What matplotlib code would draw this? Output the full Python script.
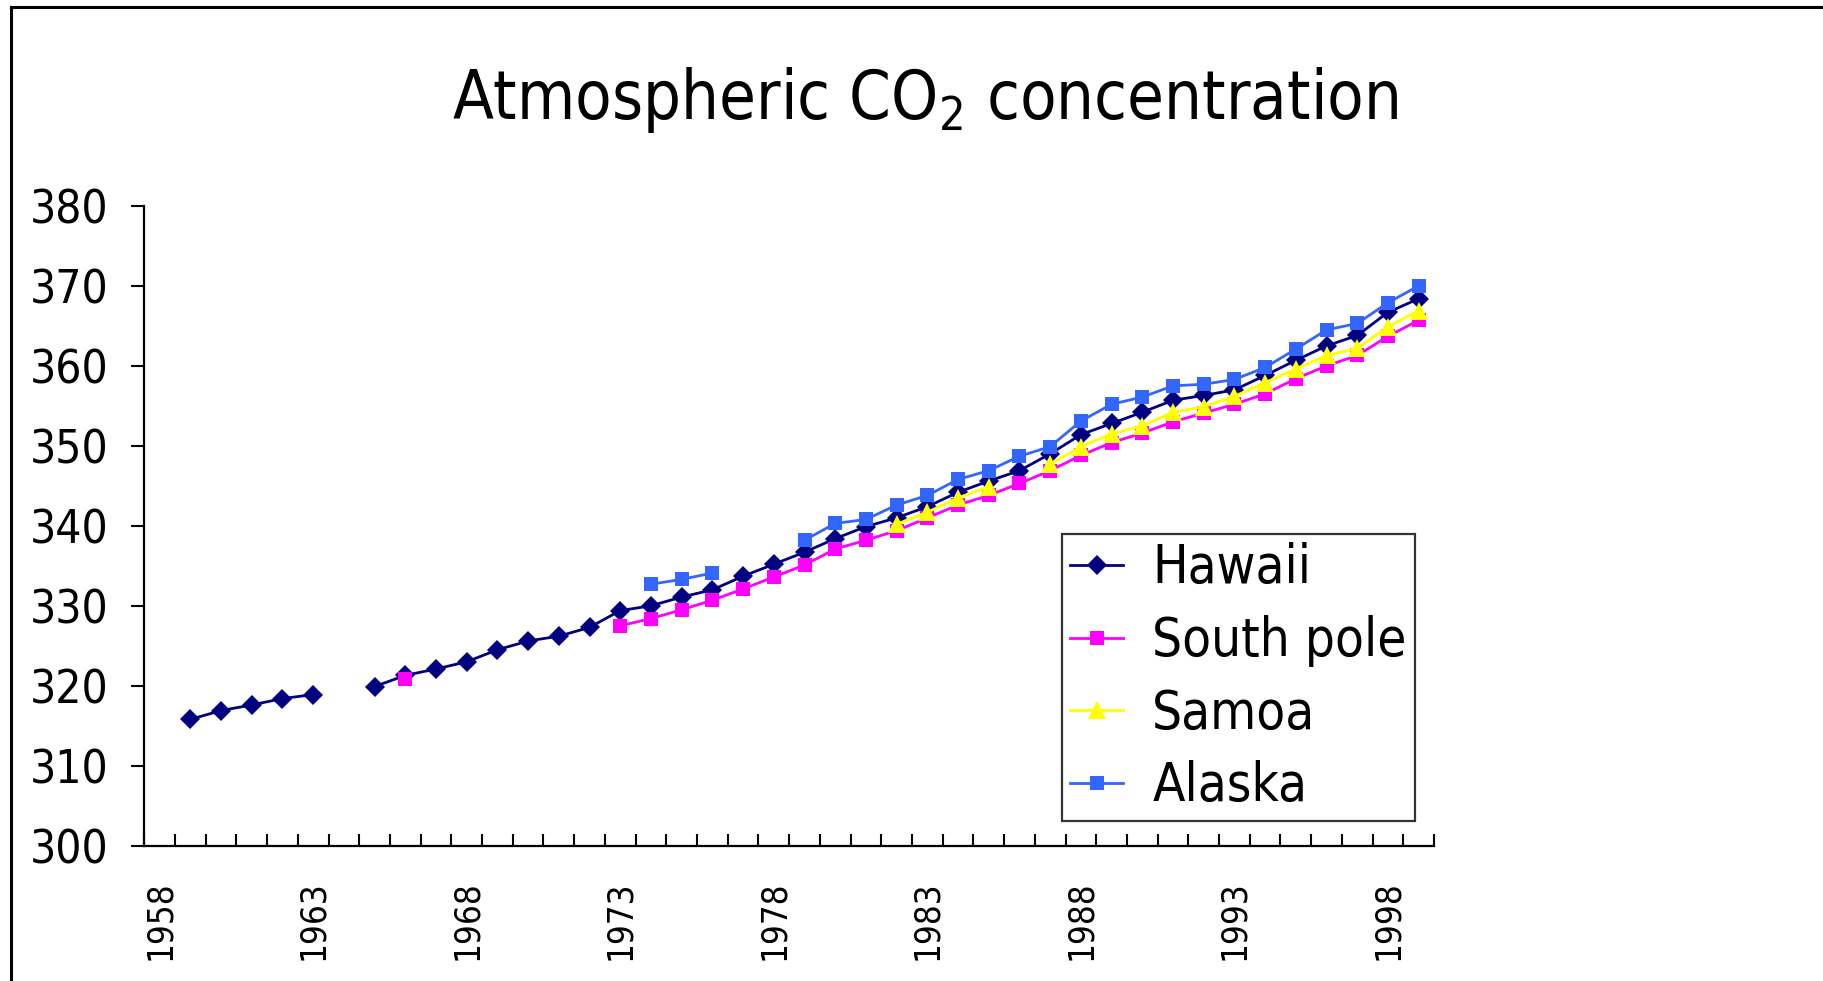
import numpy as np
import matplotlib
matplotlib.use("Agg")
import matplotlib.pyplot as plt
from matplotlib.lines import Line2D
from matplotlib import font_manager

nan = np.nan

years = list(range(1958, 2000))
label_years = list(range(1958, 2000, 5))

hawaii = [nan, 315.8, 316.9, 317.6, 318.4, 318.9, nan,
          319.9, 321.3, 322.1, 323.0, 324.5, 325.6, 326.2, 327.3,
          329.4, 330.0, 331.1, 332.0, 333.7, 335.2, 336.7, 338.4,
          339.9, 341.0, 342.4, 344.2, 345.6, 346.9, 349.0, 351.4,
          352.8, 354.2, 355.7, 356.3, 357.0, 358.8, 360.7, 362.5,
          363.8, 366.7, 368.4]
south_pole = [nan] * 8 + [320.9] + [nan] * 6 + [
    327.5, 328.4, 329.5, 330.7, 332.1, 333.6, 335.1, 337.1, 338.2,
    339.4, 341.0, 342.6, 343.8, 345.3, 346.9, 348.8, 350.4, 351.6,
    353.0, 354.1, 355.2, 356.5, 358.4, 360.0, 361.3, 363.7, 365.7]
samoa = [nan] * 24 + [340.2, 341.7, 343.5, 344.9, nan,
                      347.7, 349.9, 351.5, 352.5, 354.2, 354.9, 356.2,
                      357.9, 359.6, 361.3, 362.2, 364.9, 366.9]
alaska = [nan] * 16 + [332.7, 333.3, 334.1, nan, nan,
                       338.2, 340.3, 340.8, 342.6, 343.8, 345.8, 346.9,
                       348.7, 349.9, 353.1, 355.2, 356.1, 357.5, 357.7,
                       358.3, 359.8, 362.1, 364.5, 365.3, 367.9, 370.0]

names = ["Hawaii", "South pole", "Samoa", "Alaska"]
colors = ["#000080", "#FF00FF", "#FFFF00", "#3366FF"]
markers = ["D", "s", "^", "s"]
msizes = [10, 10.5, 12.5, 10.5]

# narrow font if we have one, the reference uses a condensed gothic face
installed = {f.name for f in font_manager.fontManager.ttflist}
fam = [f for f in ["Liberation Sans Narrow", "DejaVu Sans"] if f in installed]
plt.rcParams["font.family"] = fam
plt.rcParams["font.stretch"] = "condensed"
plt.rcParams["mathtext.default"] = "regular"

fig = plt.figure(figsize=(18.24, 9.81), dpi=100)
ax = fig.add_axes([0.0791, 0.1379, 0.7071, 0.6522])

for vals, name, c, m, ms in zip([hawaii, south_pole, samoa, alaska], names, colors, markers, msizes):
    ax.plot(years, vals, color=c, marker=m, markersize=ms, linewidth=2.0,
            markeredgewidth=0, label=name)

ax.set_xlim(1957.5, 1999.5)
ax.set_ylim(300, 380)
ax.set_yticks(range(300, 381, 10))
ax.tick_params(axis="y", direction="out", length=9.5, width=1.5, labelsize=33, pad=16)

ax.set_xticks(np.arange(1957.5, 2000, 1.0))
ax.set_xticklabels([])
ax.tick_params(axis="x", which="major", direction="in", length=9, width=1.5)
ax.set_xticks(label_years, minor=True)
ax.set_xticklabels([str(y) for y in label_years], minor=True, rotation=90)
ax.tick_params(axis="x", which="minor", length=0, labelsize=25, pad=25)

for s in ["top", "right"]:
    ax.spines[s].set_visible(False)
for s in ["left", "bottom"]:
    ax.spines[s].set_linewidth(1.6)

leg = ax.legend(loc="upper left", bbox_to_anchor=(0.5822, 0.4557),
                bbox_transform=fig.transFigure, fontsize=38, frameon=True,
                fancybox=False, edgecolor="black", handlelength=1.0,
                handletextpad=0.55, labelspacing=0.39, borderpad=0.16,
                borderaxespad=0)
leg.get_frame().set_linewidth(1.6)

fig.text(0.507, 0.879, "Atmospheric CO$_2$ concentration", ha="center",
         va="baseline", fontsize=48)

# outer chart-area border (only top and left visible)
fig.add_artist(Line2D([0.006, 1.0], [0.9929, 0.9929], transform=fig.transFigure,
                      color="black", linewidth=2.2))
fig.add_artist(Line2D([0.006, 0.006], [0.0, 0.9929], transform=fig.transFigure,
                      color="black", linewidth=2.2))

fig.savefig("out.png", dpi=100)
